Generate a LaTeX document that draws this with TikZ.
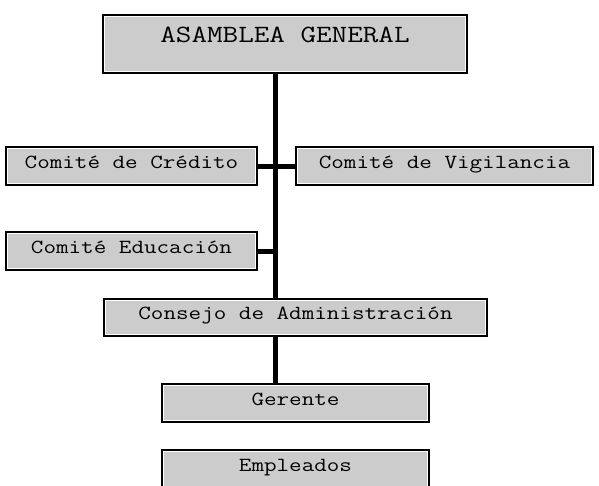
\documentclass[tikz,border=0pt]{standalone}
\usepackage{fontspec}
\usepackage{graphicx}
\usetikzlibrary{calc}
\definecolor{grisfondo}{RGB}{204,204,204}
\newcommand{\estirar}[1]{\scalebox{1.22}[1]{#1}}

\begin{document}
\begin{tikzpicture}[x=1pt,y=-1pt,
  cuadro/.style={draw=black,line width=2pt,fill=white,inner sep=0pt,
    font=\ttfamily\fontsize{20}{22}\selectfont,
    text height=13pt,text depth=9pt,
    path picture={\fill[grisfondo]
      ([shift={(2.3pt,2.3pt)}]path picture bounding box.south west) rectangle
      ([shift={(-2.3pt,-2.3pt)}]path picture bounding box.north east);}},
  enlace/.style={draw=black,line width=5pt}]
\useasboundingbox (0,0) rectangle (599,485);
%
% cajas:
\node[cuadro,minimum width=364pt,minimum height=58pt,
  font=\ttfamily\fontsize{24.8}{26}\selectfont,text height=16pt,text depth=20pt]
  (asamblea) at (285,44) {\estirar{ASAMBLEA GENERAL}};
\node[cuadro,minimum width=251pt,minimum height=38pt] (credito) at (131.5,166) {\estirar{Comité de Crédito}};
\node[cuadro,minimum width=297pt,minimum height=38pt] (vigilancia) at (444.5,166) {\estirar{Comité de Vigilancia}};
\node[cuadro,minimum width=251pt,minimum height=38pt] (educacion) at (131.5,251) {\estirar{Comité Educación}};
\node[cuadro,minimum width=383pt,minimum height=37pt] (consejo) at (295.5,317.5) {\estirar{Consejo de Administración}};
\node[cuadro,minimum width=267pt,minimum height=38pt] (gerente) at (295.5,403) {\estirar{Gerente}};
\node[cuadro,minimum width=267pt,minimum height=38pt] (empleados) at (295.5,469) {\estirar{Empleados}};
%
% lineas:
\coordinate (eje) at (275.5,0);
\draw[enlace] (asamblea.south -| eje) -- (consejo.north -| eje);
\draw[enlace] (consejo.south -| eje) -- (gerente.north -| eje);
\draw[enlace] (credito.east) -- (vigilancia.west);
\draw[enlace] (educacion.east) -- (educacion.east -| eje);
\end{tikzpicture}
\end{document}
